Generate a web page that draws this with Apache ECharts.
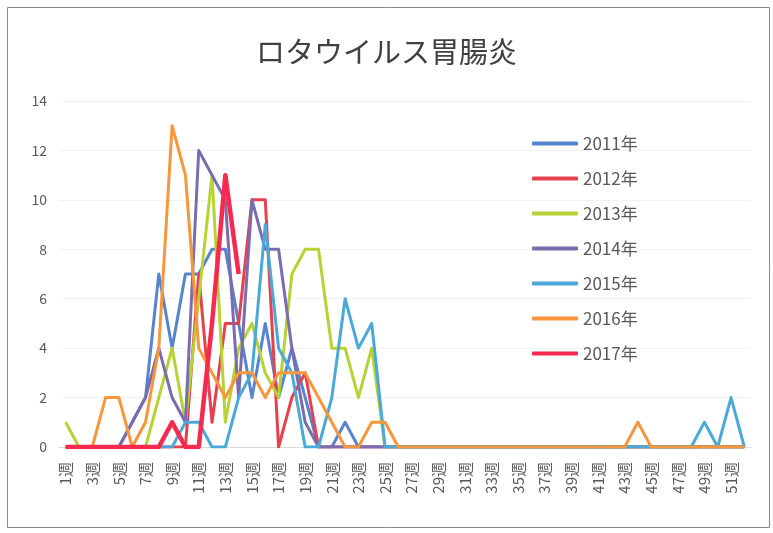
<!DOCTYPE html>
<html>
<head>
<meta charset="utf-8">
<script src="https://cdn.jsdelivr.net/npm/echarts@6/dist/echarts.min.js"></script>
<style>
  html, body { margin: 0; padding: 0; background: #fff; }
  #chart { width: 773px; height: 533px; }
</style>
</head>
<body>
<div id="chart"></div>
<script>
  // 週ラベル
  const weeks = ['1週', '2週', '3週', '4週', '5週', '6週', '7週', '8週', '9週', '10週',
    '11週', '12週', '13週', '14週', '15週', '16週', '17週', '18週', '19週', '20週',
    '21週', '22週', '23週', '24週', '25週', '26週', '27週', '28週', '29週', '30週',
    '31週', '32週', '33週', '34週', '35週', '36週', '37週', '38週', '39週', '40週',
    '41週', '42週', '43週', '44週', '45週', '46週', '47週', '48週', '49週', '50週',
    '51週', '52週']

  const yearNames = ['2011年', '2012年', '2013年', '2014年', '2015年', '2016年', '2017年']

  const y2011 = [0, 0, 0, 0, 0, 1, 2, 7, 4, 7, 7, 8, 8, 5, 2, 5, 2, 4, 2, 0,
    0, 1, 0, 0, 0, 0, 0, 0, 0, 0, 0, 0, 0, 0, 0, 0, 0, 0, 0, 0,
    0, 0, 0, 0, 0, 0, 0, 0, 0, 0, 0, 0]
  const y2012 = [0, 0, 0, 0, 0, 0, 0, 0, 0, 0, 7, 1, 5, 5, 10, 10, 0, 2, 3, 0,
    0, 0, 0, 0, 0, 0, 0, 0, 0, 0, 0, 0, 0, 0, 0, 0, 0, 0, 0, 0,
    0, 0, 0, 0, 0, 0, 0, 0, 0, 0, 0, 0]
  const y2013 = [1, 0, 0, 0, 0, 0, 0, 2, 4, 1, 6, 11, 1, 4, 5, 3, 2, 7, 8, 8,
    4, 4, 2, 4, 0, 0, 0, 0, 0, 0, 0, 0, 0, 0, 0, 0, 0, 0, 0, 0,
    0, 0, 0, 0, 0, 0, 0, 0, 0, 0, 0, 0]
  const y2014 = [0, 0, 0, 0, 0, 1, 2, 4, 2, 1, 12, 11, 10, 2, 10, 8, 8, 4, 1, 0,
    0, 0, 0, 0, 0, 0, 0, 0, 0, 0, 0, 0, 0, 0, 0, 0, 0, 0, 0, 0,
    0, 0, 0, 0, 0, 0, 0, 0, 0, 0, 0, 0]
  const y2015 = [0, 0, 0, 0, 0, 0, 0, 0, 0, 1, 1, 0, 0, 2, 3, 9, 4, 3, 0, 0,
    2, 6, 4, 5, 0, 0, 0, 0, 0, 0, 0, 0, 0, 0, 0, 0, 0, 0, 0, 0,
    0, 0, 0, 0, 0, 0, 0, 0, 1, 0, 2, 0]
  const y2016 = [0, 0, 0, 2, 2, 0, 1, 4, 13, 11, 4, 3, 2, 3, 3, 2, 3, 3, 3, 2,
    1, 0, 0, 1, 1, 0, 0, 0, 0, 0, 0, 0, 0, 0, 0, 0, 0, 0, 0, 0,
    0, 0, 0, 1, 0, 0, 0, 0, 0, 0, 0, 0]
  const y2017 = [0, 0, 0, 0, 0, 0, 0, 0, 1, 0, 0, 5, 11, 7]

  const seriesValues = [y2011, y2012, y2013, y2014, y2015, y2016, y2017]
  const colors = ['#5585cf', '#e5414f', '#b7d235', '#7b6cae', '#4ba9d8', '#f7963b', '#f7294f']
  const lineWidths = [3, 3, 3, 3, 3, 3, 4.5]

  const chart = echarts.init(document.getElementById('chart'))

  const seriesData = yearNames.map((name, i) => ({
    name: name,
    type: 'line',
    data: seriesValues[i],
    symbol: 'none',
    smooth: false,
    z: i === 6 ? 10 : 2 + i,
    lineStyle: {
      width: lineWidths[i],
      color: colors[i],
      join: 'round'
    },
    itemStyle: {
      color: colors[i]
    }
  }))

  chart.setOption({
    animation: false,
    graphic: [{
      type: 'rect',
      shape: { x: 7.5, y: 7.5, width: 762, height: 520 },
      style: { fill: 'none', stroke: '#8a8a8a', lineWidth: 1 },
      silent: true
    }],
    title: {
      text: 'ロタウイルス胃腸炎',
      left: 'center',
      top: 32,
      textStyle: {
        fontFamily: 'Noto Sans CJK JP',
        fontSize: 29,
        fontWeight: 'normal',
        color: '#404040'
      }
    },
    legend: {
      data: yearNames,
      orient: 'vertical',
      left: 527,
      top: 130,
      itemWidth: 46,
      itemHeight: 4,
      itemGap: 18,
      icon: 'roundRect',
      textStyle: {
        fontFamily: 'Noto Sans CJK JP',
        fontSize: 17,
        color: '#595959'
      }
    },
    grid: {
      left: 59,
      right: 22,
      top: 101,
      bottom: 86,
      outerBoundsMode: 'none'
    },
    xAxis: {
      type: 'category',
      data: weeks,
      boundaryGap: true,
      axisTick: { show: false },
      axisLine: { lineStyle: { color: '#d9d9d9' } },
      axisLabel: {
        interval: 1,
        rotate: 90,
        margin: 15,
        fontSize: 15,
        fontFamily: 'Noto Sans CJK JP',
        color: '#595959'
      }
    },
    yAxis: {
      type: 'value',
      min: 0,
      max: 14,
      interval: 2,
      axisLine: { show: false },
      axisTick: { show: false },
      splitLine: { lineStyle: { color: '#f2f2f2' } },
      axisLabel: {
        margin: 12,
        fontSize: 14,
        fontFamily: 'Noto Sans CJK JP',
        color: '#595959'
      }
    },
    series: seriesData
  })
</script>
</body>
</html>
